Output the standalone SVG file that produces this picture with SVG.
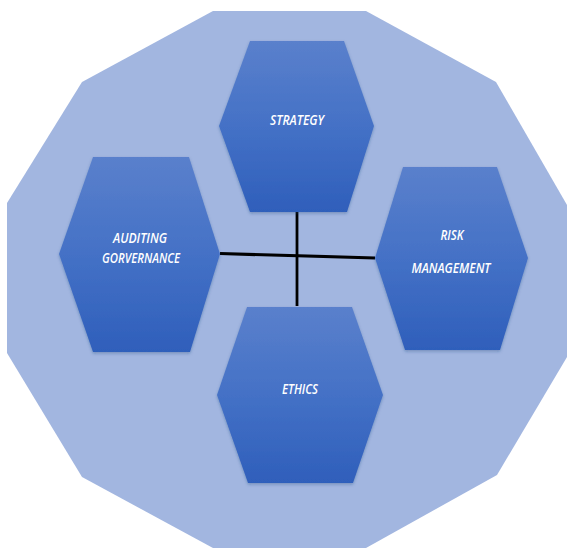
<svg xmlns="http://www.w3.org/2000/svg" width="568" height="550" viewBox="0 0 568 550">
  <defs>
    <linearGradient id="hexFill" x1="0" y1="0" x2="0" y2="1">
      <stop offset="0" stop-color="#5a80cc"/>
      <stop offset="0.5" stop-color="#4471c6"/>
      <stop offset="1" stop-color="#2f5fbb"/>
    </linearGradient>
    <filter id="shadow" x="-10%" y="-10%" width="120%" height="120%">
      <feDropShadow dx="0" dy="1.5" stdDeviation="1.5" flood-color="#1f3f7a" flood-opacity="0.35"/>
    </filter>
  </defs>
  <style>
    .bg { fill: #a2b6e0; }
    .hex { fill: url(#hexFill); filter: url(#shadow); }
    .label { fill: #ffffff; font-family: "Open Sans", "Liberation Sans", sans-serif; font-style: italic; font-weight: 600; font-size: 14.5px; text-anchor: middle; }
    .conn { stroke: #000000; fill: none; stroke-linecap: butt; }
  </style>
  <rect width="568" height="550" fill="#ffffff"/>
  <polygon class="bg" points="213,11 366,11 496,82 567,205 567,357 497,475 366,548 213,548 82,477 7,353 7,203 82,82"/>
  <g id="connectors">
    <line class="conn" x1="297" y1="212" x2="297" y2="306" stroke-width="2.8"/>
    <line class="conn" x1="220" y1="253.5" x2="375" y2="258" stroke-width="3.2"/>
  </g>
  <g id="strategy">
    <polygon class="hex" points="250,41 344,41 374,126 347,212 250,212 219,126"/>
    <text class="label" x="297" y="125" textLength="54" lengthAdjust="spacingAndGlyphs">STRATEGY</text>
  </g>
  <g id="auditing">
    <polygon class="hex" points="93,157 189,157 220,254 190,352 93,352 59,254"/>
    <text class="label" x="140" y="243" textLength="54" lengthAdjust="spacingAndGlyphs">AUDITING</text>
    <text class="label" x="141" y="263" textLength="78" lengthAdjust="spacingAndGlyphs">GORVERNANCE</text>
  </g>
  <g id="risk">
    <polygon class="hex" points="403,167 497,167 528,258 500,350 405,350 375,258"/>
    <text class="label" x="452" y="240" textLength="23" lengthAdjust="spacingAndGlyphs">RISK</text>
    <text class="label" x="451" y="273" textLength="79" lengthAdjust="spacingAndGlyphs">MANAGEMENT</text>
  </g>
  <g id="ethics">
    <polygon class="hex" points="247,307 352,307 383,395 353,483 248,483 217,395"/>
    <text class="label" x="300" y="394" textLength="36" lengthAdjust="spacingAndGlyphs">ETHICS</text>
  </g>
</svg>
